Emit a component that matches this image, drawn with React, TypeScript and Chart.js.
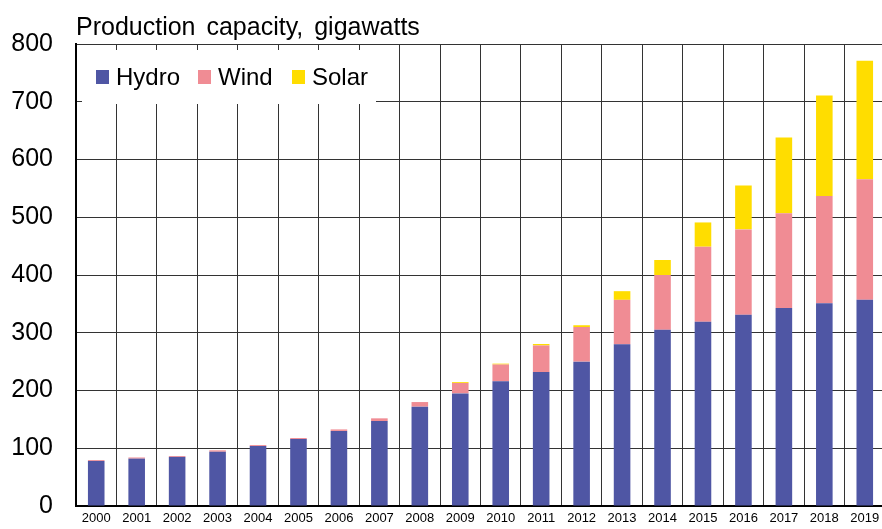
import React, { useEffect, useRef } from "react";
import { Chart, registerables } from "chart.js";

Chart.register(...registerables);

const years = ["2000", "2001", "2002", "2003", "2004", "2005", "2006", "2007", "2008", "2009", "2010", "2011", "2012", "2013", "2014", "2015", "2016", "2017", "2018", "2019"];
const hydro = [78, 82, 85, 94, 104, 116, 130, 147, 172, 195, 216, 232, 250, 280, 305, 319, 331, 343, 351, 357];
const wind = [1.5, 2, 1.5, 2.4, 1.6, 1.7, 2.6, 4.8, 8, 18, 29, 46, 60, 77, 95, 130, 148, 164, 186, 209];
const solar = [0, 0, 0, 0, 0, 0, 0, 0, 0, 1.5, 1.5, 2.5, 3, 15, 26, 42, 76, 131, 174, 205];
const yTicks = [0, 100, 200, 300, 400, 500, 600, 700, 800];
const titleText = "Production capacity, gigawatts";

const FONT = "'Liberation Sans', Arial, sans-serif";

const overlayPlugin = {
  id: "overlay",
  beforeDatasetsDraw(chart: any) {
    const { ctx, chartArea } = chart;
    const bx = chartArea.left + 6;
    const by = chartArea.top + 6;
    ctx.save();
    ctx.fillStyle = "#ffffff";
    ctx.fillRect(bx, by, 294, 54);
    const items = chart.data.datasets;
    const offsets = [14, 116, 210];
    ctx.font = `24px ${FONT}`;
    ctx.textBaseline = "middle";
    ctx.textAlign = "left";
    items.forEach((ds: any, i: number) => {
      const x = bx + offsets[i];
      const y = by + 27;
      ctx.fillStyle = ds.backgroundColor;
      ctx.fillRect(x, y - 7, 13, 14);
      ctx.fillStyle = "#000";
      ctx.fillText(ds.label, x + 20, y + 1);
    });
    ctx.restore();
  },
  afterDraw(chart: any) {
    const { ctx, chartArea } = chart;
    ctx.save();
    ctx.font = `25px ${FONT}`;
    (ctx as any).wordSpacing = "4px";
    ctx.fillStyle = "#000";
    ctx.textBaseline = "alphabetic";
    ctx.textAlign = "left";
    ctx.fillText(titleText, chartArea.left, chartArea.top - 9);
    ctx.restore();
  },
};

export default function App() {
  const ref = useRef<HTMLCanvasElement | null>(null);
  useEffect(() => {
    if (!ref.current) return;
    const chart = new Chart(ref.current, {
      type: "bar",
      data: {
        labels: years,
        datasets: [
          { label: "Hydro", data: hydro, backgroundColor: "#4F56A4" },
          { label: "Wind", data: wind, backgroundColor: "#F08C94" },
          { label: "Solar", data: solar, backgroundColor: "#FFDD00" },
        ],
      },
      options: {
        responsive: false,
        animation: false,
        devicePixelRatio: 1,
        layout: { padding: { top: 44, left: 0, right: 0, bottom: 0 } },
        datasets: { bar: { categoryPercentage: 1, barPercentage: 0.41 } },
        plugins: {
          legend: { display: false },
          title: { display: false },
          tooltip: { enabled: false },
        },
        scales: {
          x: {
            stacked: true,
            grid: { color: "#333", lineWidth: 1, drawTicks: false, offset: true },
            border: { color: "#000", width: 2 },
            ticks: { color: "#000", font: { family: FONT, size: 13 }, padding: 5, maxRotation: 0, autoSkip: false },
            afterFit: (s: any) => { s.height = 23; s.paddingLeft = 0; s.paddingRight = 0; },
          },
          y: {
            stacked: true,
            min: 0,
            max: 800,
            grid: { color: "#333", lineWidth: 1, drawTicks: false },
            border: { color: "#000", width: 2 },
            afterBuildTicks: (s: any) => { s.ticks = yTicks.map((v) => ({ value: v })); },
            ticks: { color: "#000", font: { family: FONT, size: 25 }, padding: 23 },
            afterFit: (s: any) => { s.width = 76; s.paddingTop = 0; s.paddingBottom = 0; },
          },
        },
      },
      plugins: [overlayPlugin],
    });
    return () => chart.destroy();
  }, []);
  return (
    <div style={{ position: "fixed", left: 0, top: 0, width: 882, height: 529, overflow: "hidden", background: "#fff" }}>
      <canvas ref={ref} width={885} height={529} style={{ width: 885, height: 529, display: "block" }} />
    </div>
  );
}
